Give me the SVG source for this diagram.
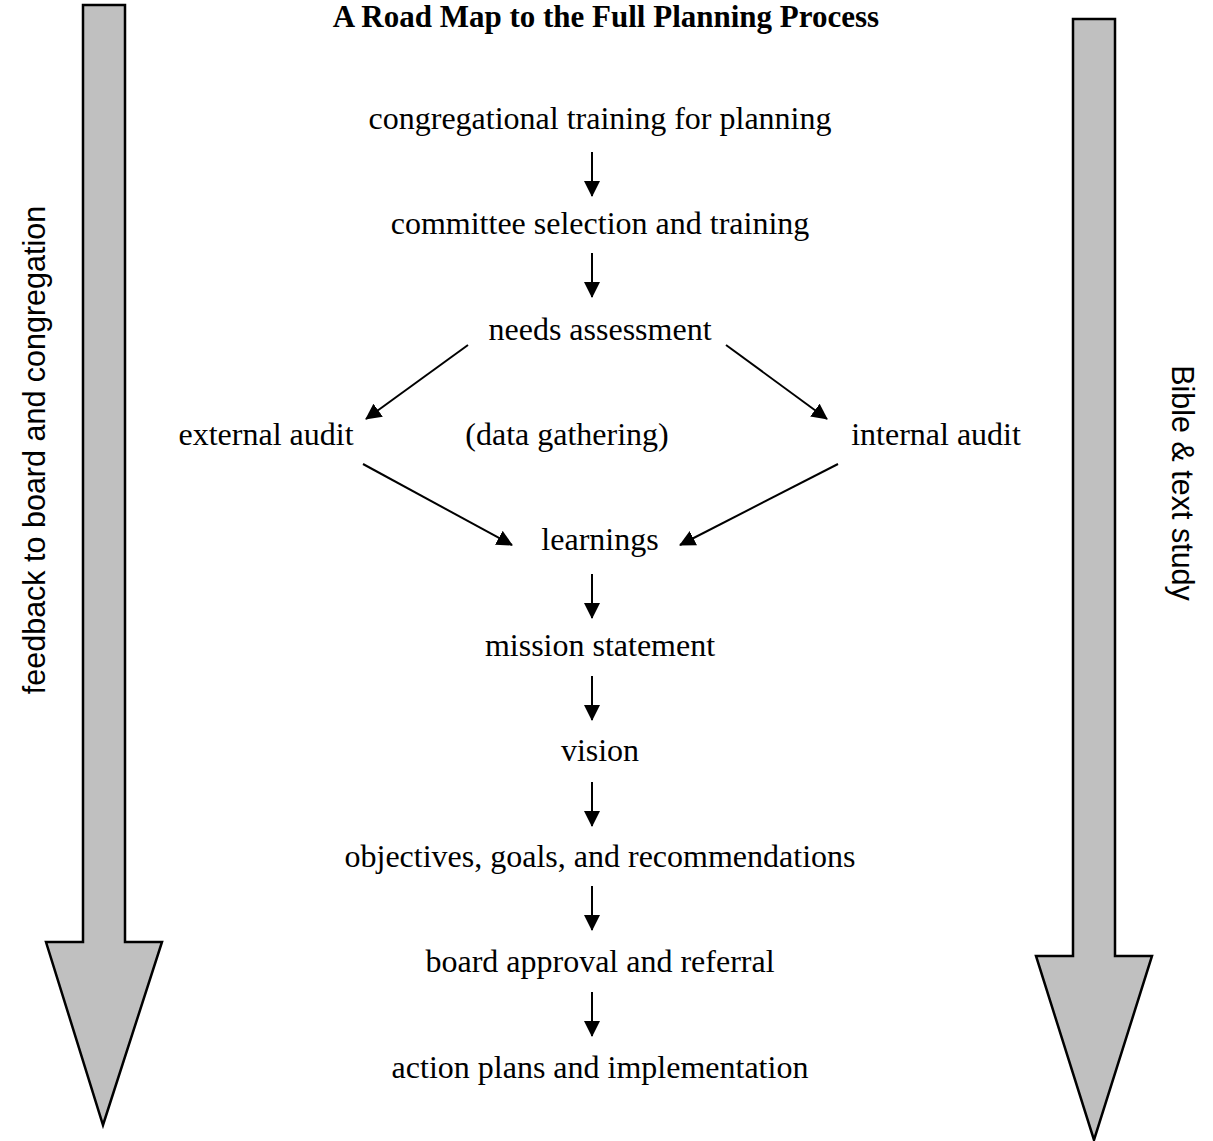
<svg xmlns="http://www.w3.org/2000/svg" width="1213" height="1141" viewBox="0 0 1213 1141">
<defs>
<marker id="ah" markerWidth="16" markerHeight="16" refX="15" refY="8" orient="auto" markerUnits="userSpaceOnUse">
<path d="M0,0 L16,8 L0,16 Z" fill="#000"/>
</marker>
<style>
.t{font-family:"Liberation Serif","Times New Roman",serif;font-size:32px;fill:#000;text-anchor:middle}
.s{font-family:"Liberation Sans",Arial,sans-serif;font-size:30.5px;fill:#000;text-anchor:middle}
.big{fill:#c0c0c0;stroke:#000;stroke-width:2.5}
.c{stroke:#000;stroke-width:2;fill:none;marker-end:url(#ah)}
</style>
</defs>
<rect width="1213" height="1141" fill="#fff"/>
<g id="title"><text x="606" y="27" class="t" style="font-weight:bold;font-size:31px">A Road Map to the Full Planning Process</text></g>
<g id="left-arrow">
<path class="big" d="M83,5 L125,5 L125,942 L162,942 L103,1125 L46,942 L83,942 Z"/>
<text class="s" transform="translate(45,450) rotate(-90)">feedback to board and congregation</text>
</g>
<g id="right-arrow">
<path class="big" d="M1073,19 L1115,19 L1115,956 L1152,956 L1094,1140 L1036,956 L1073,956 Z"/>
<text class="s" transform="translate(1172,483) rotate(90)">Bible &amp; text study</text>
</g>
<g id="n1"><text x="600" y="129" class="t">congregational training for planning</text></g>
<g id="n2"><text x="600" y="234" class="t">committee selection and training</text></g>
<g id="n3"><text x="600" y="340" class="t">needs assessment</text></g>
<g id="n4"><text x="266" y="445" class="t">external audit</text></g>
<g id="n5"><text x="567" y="445" class="t">(data gathering)</text></g>
<g id="n6"><text x="936" y="445" class="t">internal audit</text></g>
<g id="n7"><text x="600" y="550" class="t">learnings</text></g>
<g id="n8"><text x="600" y="656" class="t">mission statement</text></g>
<g id="n9"><text x="600" y="761" class="t">vision</text></g>
<g id="n10"><text x="600" y="867" class="t">objectives, goals, and recommendations</text></g>
<g id="n11"><text x="600" y="972" class="t">board approval and referral</text></g>
<g id="n12"><text x="600" y="1078" class="t">action plans and implementation</text></g>
<g id="connectors">
<line class="c" x1="592" y1="152" x2="592" y2="196"/>
<line class="c" x1="592" y1="253" x2="592" y2="297"/>
<line class="c" x1="468" y1="345" x2="366" y2="419"/>
<line class="c" x1="726" y1="345" x2="827" y2="419"/>
<line class="c" x1="363" y1="464" x2="512" y2="545"/>
<line class="c" x1="838" y1="464" x2="680" y2="545"/>
<line class="c" x1="592" y1="574" x2="592" y2="618"/>
<line class="c" x1="592" y1="676" x2="592" y2="720"/>
<line class="c" x1="592" y1="782" x2="592" y2="826"/>
<line class="c" x1="592" y1="886" x2="592" y2="930"/>
<line class="c" x1="592" y1="992" x2="592" y2="1036"/>
</g>
</svg>
